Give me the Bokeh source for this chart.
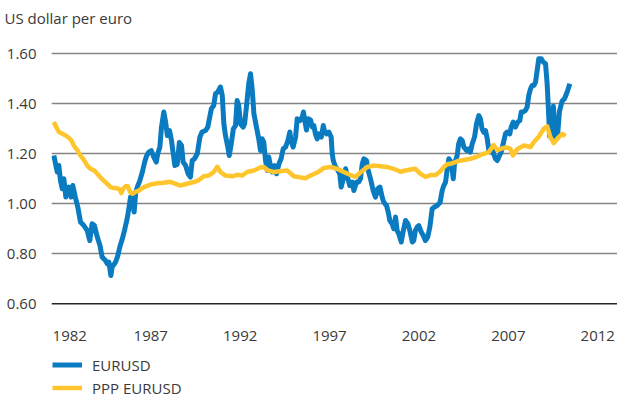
from bokeh.plotting import figure
from bokeh.models import Range1d, FixedTicker, NumeralTickFormatter, Legend, LegendItem, Span
from bokeh.core.properties import value
from bokeh.embed import file_html
from bokeh.resources import INLINE

# EURUSD (synthetic before 1999)
eurusd_year = [1981.58, 1981.77, 1981.86, 1981.95, 1982.05, 1982.14, 1982.25, 1982.41, 1982.55, 1982.64,
               1982.78, 1982.92, 1983.07, 1983.26, 1983.45, 1983.59, 1983.72, 1983.85, 1984.01, 1984.16,
               1984.28, 1984.47, 1984.57, 1984.66, 1984.77, 1984.84, 1985.03, 1985.16, 1985.27, 1985.41,
               1985.53, 1985.68, 1985.80, 1985.87, 1985.98, 1986.07, 1986.16, 1986.28, 1986.39, 1986.53,
               1986.66, 1986.76, 1986.89, 1987.03, 1987.17, 1987.31, 1987.39, 1987.51, 1987.60, 1987.73,
               1987.83, 1987.93, 1988.05, 1988.16, 1988.24, 1988.35, 1988.48, 1988.60, 1988.72, 1988.81,
               1988.95, 1989.09, 1989.22, 1989.32, 1989.45, 1989.60, 1989.75, 1989.87, 1990.06, 1990.19,
               1990.39, 1990.52, 1990.62, 1990.75, 1990.90, 1991.00, 1991.09, 1991.18, 1991.31, 1991.39,
               1991.50, 1991.62, 1991.74, 1991.83, 1991.92, 1992.02, 1992.17, 1992.25, 1992.35, 1992.48,
               1992.58, 1992.68, 1992.77, 1992.91, 1993.04, 1993.14, 1993.23, 1993.32, 1993.42, 1993.52,
               1993.60, 1993.69, 1993.79, 1993.92, 1994.04, 1994.17, 1994.29, 1994.41, 1994.54, 1994.67,
               1994.78, 1994.85, 1994.96, 1995.10, 1995.19, 1995.34, 1995.47, 1995.54, 1995.63, 1995.71,
               1995.80, 1995.94, 1996.03, 1996.12, 1996.21, 1996.31, 1996.40, 1996.54, 1996.65, 1996.71,
               1996.83, 1996.96, 1997.09, 1997.15, 1997.21, 1997.33, 1997.42, 1997.57, 1997.65, 1997.77,
               1997.90, 1997.98, 1998.13, 1998.27, 1998.36, 1998.51, 1998.63, 1998.73, 1998.83, 1998.92,
               1999.07, 1999.14, 1999.29, 1999.44, 1999.57, 1999.70, 1999.82, 1999.94, 2000.03, 2000.19,
               2000.28, 2000.37, 2000.50, 2000.59, 2000.69, 2000.78, 2000.87, 2001.01, 2001.11, 2001.25,
               2001.38, 2001.49, 2001.63, 2001.71, 2001.80, 2001.90, 2001.99, 2002.13, 2002.24, 2002.36,
               2002.49, 2002.61, 2002.74, 2002.87, 2003.02, 2003.18, 2003.30, 2003.39, 2003.49, 2003.57,
               2003.67, 2003.80, 2003.92, 2003.99, 2004.14, 2004.22, 2004.32, 2004.42, 2004.51, 2004.66,
               2004.79, 2004.88, 2004.98, 2005.11, 2005.22, 2005.35, 2005.44, 2005.53, 2005.62, 2005.72,
               2005.82, 2005.91, 2006.00, 2006.09, 2006.18, 2006.28, 2006.38, 2006.47, 2006.60, 2006.71,
               2006.84, 2006.93, 2007.08, 2007.16, 2007.27, 2007.40, 2007.53, 2007.64, 2007.72, 2007.83,
               2007.95, 2008.05, 2008.14, 2008.24, 2008.33, 2008.43, 2008.52, 2008.61, 2008.70, 2008.84,
               2008.95, 2009.08, 2009.17, 2009.24, 2009.31, 2009.41, 2009.52, 2009.64, 2009.75, 2009.86,
               2010.00, 2010.14, 2010.28, 2010.44]
eurusd_value = [1.193, 1.127, 1.153, 1.093, 1.060, 1.100, 1.027, 1.067, 1.027, 1.073,
                1.027, 0.987, 0.927, 0.913, 0.893, 0.853, 0.920, 0.913, 0.867, 0.833,
                0.787, 0.773, 0.760, 0.767, 0.713, 0.747, 0.767, 0.793, 0.827, 0.860,
                0.893, 0.940, 0.993, 1.027, 1.000, 0.967, 1.047, 1.073, 1.093, 1.127,
                1.167, 1.190, 1.207, 1.213, 1.187, 1.167, 1.200, 1.227, 1.307, 1.367,
                1.327, 1.273, 1.293, 1.253, 1.210, 1.153, 1.157, 1.245, 1.233, 1.167,
                1.153, 1.120, 1.107, 1.173, 1.180, 1.200, 1.267, 1.287, 1.293, 1.307,
                1.380, 1.393, 1.440, 1.447, 1.467, 1.433, 1.320, 1.273, 1.227, 1.193,
                1.240, 1.300, 1.313, 1.413, 1.393, 1.320, 1.307, 1.320, 1.387, 1.480,
                1.520, 1.453, 1.360, 1.307, 1.260, 1.213, 1.260, 1.247, 1.173, 1.133,
                1.187, 1.153, 1.127, 1.153, 1.120, 1.160, 1.180, 1.220, 1.227, 1.253,
                1.287, 1.253, 1.227, 1.267, 1.340, 1.333, 1.347, 1.367, 1.327, 1.295,
                1.340, 1.335, 1.307, 1.313, 1.280, 1.260, 1.280, 1.267, 1.313, 1.293,
                1.280, 1.287, 1.267, 1.200, 1.173, 1.147, 1.140, 1.120, 1.067, 1.100,
                1.140, 1.113, 1.073, 1.087, 1.053, 1.087, 1.087, 1.100, 1.160, 1.180,
                1.173, 1.140, 1.100, 1.053, 1.027, 1.060, 1.067, 1.027, 1.007, 0.993,
                0.967, 0.933, 0.920, 0.900, 0.947, 0.893, 0.880, 0.847, 0.887, 0.933,
                0.920, 0.893, 0.847, 0.853, 0.893, 0.907, 0.913, 0.887, 0.873, 0.853,
                0.867, 0.907, 0.980, 0.987, 0.993, 1.005, 1.053, 1.073, 1.087, 1.133,
                1.180, 1.167, 1.100, 1.160, 1.193, 1.240, 1.260, 1.253, 1.227, 1.213,
                1.220, 1.207, 1.240, 1.267, 1.320, 1.353, 1.340, 1.300, 1.287, 1.293,
                1.260, 1.213, 1.207, 1.227, 1.200, 1.180, 1.173, 1.187, 1.207, 1.240,
                1.280, 1.287, 1.280, 1.307, 1.327, 1.307, 1.327, 1.333, 1.367, 1.367,
                1.373, 1.387, 1.433, 1.460, 1.473, 1.473, 1.487, 1.533, 1.580, 1.580,
                1.567, 1.560, 1.480, 1.380, 1.270, 1.267, 1.390, 1.260, 1.270, 1.370,
                1.410, 1.420, 1.445, 1.480]

# Purchasing power parity EURUSD
ppp_year = [1981.58, 1981.67, 1981.86, 1982.05, 1982.24, 1982.41, 1982.55, 1982.70, 1982.89, 1983.07,
            1983.26, 1983.45, 1983.63, 1983.81, 1984.01, 1984.19, 1984.37, 1984.57, 1984.75, 1984.93,
            1985.12, 1985.26, 1985.35, 1985.46, 1985.59, 1985.72, 1985.84, 1985.98, 1986.14, 1986.33,
            1986.62, 1986.99, 1987.36, 1987.73, 1988.10, 1988.39, 1988.66, 1989.04, 1989.41, 1989.69,
            1989.97, 1990.25, 1990.52, 1990.72, 1990.90, 1991.18, 1991.56, 1991.83, 1992.12, 1992.39,
            1992.77, 1993.14, 1993.32, 1993.52, 1993.88, 1994.25, 1994.63, 1995.00, 1995.38, 1995.65,
            1995.94, 1996.31, 1996.67, 1997.05, 1997.42, 1997.80, 1998.17, 1998.45, 1998.73, 1999.11,
            1999.47, 1999.85, 2000.23, 2000.59, 2000.97, 2001.25, 2001.53, 2001.80, 2002.09, 2002.36,
            2002.65, 2002.93, 2003.20, 2003.39, 2003.57, 2003.76, 2004.14, 2004.51, 2004.88, 2005.26,
            2005.62, 2005.91, 2006.18, 2006.38, 2006.66, 2006.93, 2007.12, 2007.26, 2007.49, 2007.87,
            2008.24, 2008.43, 2008.70, 2008.98, 2009.17, 2009.35, 2009.54, 2009.73, 2010.01, 2010.20]
ppp_value = [1.327, 1.313, 1.287, 1.280, 1.273, 1.264, 1.255, 1.233, 1.215, 1.193,
             1.176, 1.153, 1.140, 1.135, 1.120, 1.105, 1.093, 1.080, 1.067, 1.063,
             1.062, 1.058, 1.043, 1.060, 1.070, 1.070, 1.047, 1.040, 1.048, 1.053,
             1.067, 1.077, 1.082, 1.084, 1.088, 1.080, 1.073, 1.080, 1.087, 1.095,
             1.110, 1.113, 1.127, 1.148, 1.127, 1.113, 1.110, 1.116, 1.113, 1.127,
             1.133, 1.145, 1.147, 1.135, 1.127, 1.130, 1.133, 1.110, 1.105, 1.102,
             1.113, 1.125, 1.143, 1.147, 1.140, 1.127, 1.115, 1.108, 1.125, 1.147,
             1.153, 1.150, 1.147, 1.140, 1.128, 1.133, 1.137, 1.140, 1.120, 1.108,
             1.115, 1.115, 1.130, 1.147, 1.158, 1.160, 1.170, 1.175, 1.180, 1.189,
             1.200, 1.207, 1.235, 1.215, 1.222, 1.225, 1.220, 1.193, 1.218, 1.233,
             1.227, 1.247, 1.268, 1.300, 1.310, 1.267, 1.243, 1.260, 1.280, 1.270]

x_ticks = [1982, 1987, 1992, 1997, 2002, 2007, 2012]
y_ticks = [0.6, 0.8, 1.0, 1.2, 1.4, 1.6]
y_base = 0.6

FONT = "Open Sans"
TEXT = "#3a3a3a"
BLUE = "#0A7BC1"
YELLOW = "#FFC52C"

p = figure(width=617, height=400, output_backend="svg", toolbar_location=None,
           x_range=Range1d(1981.449, 2013.105), y_range=Range1d(0.2132, 1.6932),
           min_border_left=51, min_border_right=0, min_border_top=30, min_border_bottom=0,
           title="US dollar per euro")
p.outline_line_color = None
p.background_fill_color = "white"
p.border_fill_color = "white"

p.title.align = "left"
p.title.offset = -47
p.title.standoff = 6
p.title.text_font = FONT
p.title.text_font_size = "15px"
p.title.text_font_style = "normal"
p.title.text_color = TEXT

p.xaxis.visible = False
p.xgrid.grid_line_color = None
p.ygrid.ticker = FixedTicker(ticks=y_ticks[1:])
p.ygrid.grid_line_color = "#858585"
p.ygrid.grid_line_width = 1.4

p.add_layout(Span(location=y_base, dimension="width", line_color="#262626", line_width=1.4))

# year labels under the base line (the first one is kept inside the plot area, as in the original)
label_shift = [8.4, 0, 0, 0, 0, 0, 0]
p.text(x=x_ticks, y=[y_base] * len(x_ticks), text=[str(t) for t in x_ticks],
       x_offset=label_shift, y_offset=32, text_align="center", text_baseline="middle",
       text_font=value(FONT), text_font_size="15px", text_color=TEXT)

p.yaxis.ticker = FixedTicker(ticks=y_ticks)
p.yaxis.formatter = NumeralTickFormatter(format="0.00")
p.yaxis.axis_line_color = None
p.yaxis.major_tick_line_color = None
p.yaxis.minor_tick_line_color = None
p.yaxis.major_label_standoff = 9
p.yaxis.major_label_text_font = FONT
p.yaxis.major_label_text_font_size = "15px"
p.yaxis.major_label_text_color = TEXT

r_eur = p.line(eurusd_year, eurusd_value, line_color=BLUE, line_width=5,
               line_join="round", line_cap="butt")
r_ppp = p.line(ppp_year, ppp_value, line_color=YELLOW, line_width=4.5,
               line_join="round", line_cap="butt")

legend = Legend(items=[LegendItem(label="EURUSD", renderers=[r_eur]),
                       LegendItem(label="PPP EURUSD", renderers=[r_ppp])],
                location=(1, 2), orientation="vertical", padding=0, margin=0, spacing=2,
                glyph_width=30, glyph_height=21, label_height=21, label_standoff=10,
                label_text_font=FONT, label_text_font_size="15px", label_text_color=TEXT,
                border_line_color=None, background_fill_alpha=0)
p.add_layout(legend)

open("out.html", "w").write(file_html(p, INLINE))
